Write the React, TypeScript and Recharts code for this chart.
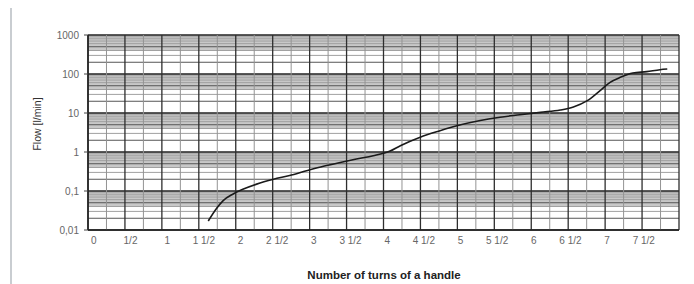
import React from 'react';
import { LineChart, Line, XAxis, YAxis, ReferenceLine, ReferenceArea } from 'recharts';

// readings: handle turns vs flow (l/min)
const turns = [1.56, 1.67, 1.76, 1.9, 2.04, 2.22, 2.45, 2.67, 2.9, 3.13, 3.36, 3.58, 3.81, 4.04, 4.18, 4.45, 4.72, 4.99, 5.27, 5.54, 5.81, 6.09, 6.36, 6.54, 6.73, 6.9, 7.04, 7.18, 7.35, 7.54, 7.72, 7.82];
const flow = [0.017, 0.035, 0.056, 0.084, 0.112, 0.15, 0.2, 0.25, 0.33, 0.43, 0.54, 0.66, 0.8, 1.06, 1.45, 2.4, 3.5, 4.9, 6.4, 7.8, 9.0, 10.4, 11.9, 14.3, 20.7, 37, 61, 82, 106, 115, 129, 134];

const xTicks = [0, 0.5, 1, 1.5, 2, 2.5, 3, 3.5, 4, 4.5, 5, 5.5, 6, 6.5, 7, 7.5];
const xTickLabels = ['0', '1/2', '1', '1 1/2', '2', '2 1/2', '3', '3 1/2', '4', '4 1/2', '5', '5 1/2', '6', '6 1/2', '7', '7 1/2'];
const yTicks = [0.01, 0.1, 1, 10, 100, 1000];
const yTickLabels = ['0,01', '0,1', '1', '10', '100', '1000'];

const X_DOMAIN: [number, number] = [-0.08, 7.98];
const FONT = '"Liberation Sans", Arial, sans-serif';

const data = turns.map((t, i) => ({ t, flow: flow[i] }));

// graph-paper lines
const decades = [0.01, 0.1, 1, 10, 100];
const minorY: { v: number; major: boolean }[] = [];
decades.forEach(d => {
    for (let m = 2; m <= 9; m++) minorY.push({ v: d * m, major: m === 2 || m === 5 });
});
const vLines = Array.from({ length: 33 }, (_, k) => X_DOMAIN[0] + (k * (X_DOMAIN[1] - X_DOMAIN[0])) / 32);

export default function App() {
    return (
        <div style={{ position: 'relative', width: 694, height: 284, margin: '-8px 0 0 -8px', background: '#fff', overflow: 'hidden' }}>
            <div style={{ position: 'absolute', left: 10, top: 6, width: 677, height: 300, border: '2px solid #c9cdd1' }} />
            <div style={{ position: 'absolute', left: 0, top: 0 }}>
                <LineChart width={694} height={284} data={data} margin={{ top: 35, right: 15, bottom: 0, left: 0 }}>
                    {decades.map(d => (
                        <ReferenceArea key={'band' + d} y1={d * 4} y2={d * 10} fill="#929292" fillOpacity={0.5} stroke="none" ifOverflow="hidden" />
                    ))}
                    {minorY.map(g => (
                        <ReferenceLine key={'h' + g.v} y={g.v} stroke={g.major ? '#555' : '#a0a0a0'} strokeWidth={1} />
                    ))}
                    {yTicks.map(v => (
                        <ReferenceLine key={'d' + v} y={v} stroke="#222" strokeWidth={1.6} />
                    ))}
                    {vLines.map((v, k) => (
                        <ReferenceLine key={'v' + k} x={v} stroke={k % 2 === 0 ? '#2e2e2e' : '#939393'} strokeWidth={k % 2 === 0 ? 1.3 : 1} />
                    ))}
                    <XAxis
                        type="number"
                        dataKey="t"
                        domain={X_DOMAIN}
                        ticks={xTicks}
                        tickFormatter={(v, i) => xTickLabels[i]}
                        allowDataOverflow
                        height={54}
                        tickSize={0}
                        tickMargin={7}
                        axisLine={{ stroke: '#222', strokeWidth: 1.6 }}
                        tick={{ fontSize: 10, fill: '#666', fontFamily: FONT }}
                    />
                    <YAxis
                        scale="log"
                        domain={[0.01, 1000]}
                        ticks={yTicks}
                        tickFormatter={(v, i) => yTickLabels[i]}
                        allowDataOverflow
                        width={88}
                        tickSize={4}
                        tickMargin={5}
                        axisLine={{ stroke: '#222', strokeWidth: 1.6 }}
                        tickLine={{ stroke: '#444' }}
                        tick={{ fontSize: 10, fill: '#666', fontFamily: FONT }}
                    />
                    <Line type="monotone" dataKey="flow" stroke="#1a1a1a" strokeWidth={1.6} dot={false} isAnimationActive={false} />
                </LineChart>
            </div>
            <div style={{ position: 'absolute', left: 37, top: 124, transform: 'translate(-50%, -50%) rotate(-90deg)', whiteSpace: 'nowrap', fontFamily: FONT, fontSize: 10.5, color: '#333' }}>
                Flow [l/min]
            </div>
            <div style={{ position: 'absolute', left: 384, top: 275, transform: 'translate(-50%, -50%)', whiteSpace: 'nowrap', fontFamily: FONT, fontSize: 11.5, fontWeight: 'bold', color: '#222' }}>
                Number of turns of a handle
            </div>
        </div>
    );
}
